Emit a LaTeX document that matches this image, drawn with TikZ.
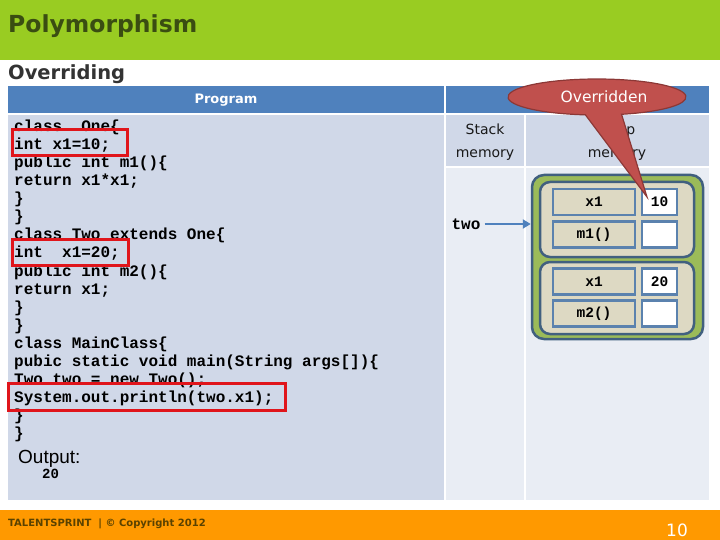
\documentclass[tikz,border=0pt]{standalone}
\usepackage{fontspec}
\setmainfont{DejaVu Sans}
\newfontfamily\codefont{Liberation Mono}
\newfontfamily\arialfont{Liberation Sans}
\usetikzlibrary{arrows.meta,calc}
\definecolor{hdrgreen}{HTML}{99CC22}
\definecolor{titlegreen}{HTML}{3A4D12}
\definecolor{tblue}{HTML}{4F81BD}
\definecolor{light1}{HTML}{D0D8E8}
\definecolor{light2}{HTML}{E9EDF4}
\definecolor{calred}{HTML}{C0504D}
\definecolor{calborder}{HTML}{8C3836}
\definecolor{heapgreen}{HTML}{9BBB59}
\definecolor{darkslate}{HTML}{41607F}
\definecolor{cellborder}{HTML}{5B82AE}
\definecolor{beige}{HTML}{DDD9C3}
\definecolor{hlred}{HTML}{E0151B}
\definecolor{footorange}{HTML}{FF9900}
\definecolor{foottext}{HTML}{5A4200}
\begin{document}
\begin{tikzpicture}[x=1pt,y=-1pt,
  every node/.style={inner sep=0pt},
  code/.style={anchor=base west, font=\codefont\bfseries\fontsize{16}{18}\selectfont},
  hl/.style={draw=hlred, line width=3pt},
  celltext/.style={font=\codefont\bfseries\fontsize{14.5}{16}\selectfont},
  namecell/.style={draw=cellborder, fill=beige, line width=2.5pt, minimum width=82pt, minimum height=26pt, celltext},
  valcell/.style={draw=cellborder, fill=white, line width=2.5pt, minimum width=35pt, minimum height=26pt, celltext},
  innerbox/.style={draw=darkslate, fill=beige, line width=2.5pt, rounded corners=10pt, minimum width=154pt},
  memlabel/.style={font=\fontsize{14}{16}\selectfont, text=black!90}
]
\useasboundingbox (0,0) rectangle (720,540);
\fill[white] (0,0) rectangle (720,540);
% header
\fill[hdrgreen] (0,0) rectangle (720,60);
\node[anchor=base west, font=\fontsize{23.5}{28}\selectfont\bfseries, text=titlegreen] (title) at (8,33) {Polymorphism};
\node[anchor=base west, font=\fontsize{19.5}{24}\selectfont\bfseries, text=black!80] (sub) at (8,80) {Overriding};
% table
\fill[tblue] (8,86) rectangle (709,114);
\fill[light1] (8,114) rectangle (445,500);
\fill[light1] (445,114) rectangle (709,167);
\fill[light2] (445,167) rectangle (709,500);
\draw[white, line width=1.5pt] (445,86) -- (445,500);
\draw[white, line width=1.5pt] (8,114) -- (709,114);
\draw[white, line width=1.5pt] (445,167) -- (709,167);
\draw[white, line width=1.5pt] (525,114) -- (525,500);
\node[font=\fontsize{13}{16}\selectfont\bfseries, text=white] (prog) at (226,100) {Program};
\node[memlabel, anchor=base] (stack1) at (485,135) {Stack};
\node[memlabel, anchor=base] (stack2) at (485,158) {memory};
\node[memlabel, anchor=base] (heap1) at (617,135) {Heap};
\node[memlabel, anchor=base] (heap2) at (617,158) {memory};
% code
\node[code] (c0) at (14,132) {class\ \ One\{};
\node[code] (c1) at (14,150) {int x1=10;};
\node[code] (c2) at (14,168) {public int m1()\{};
\node[code] (c3) at (14,186) {return x1*x1;};
\node[code] (c4) at (14,204) {\}};
\node[code] (c5) at (14,222) {\}};
\node[code] (c6) at (14,240) {class Two extends One\{};
\node[code] (c7) at (14,258) {int\ \ x1=20;};
\node[code] (c8) at (14,276) {public int m2()\{};
\node[code] (c9) at (14,294) {return x1;};
\node[code] (c10) at (14,312) {\}};
\node[code] (c11) at (14,330) {\}};
\node[code] (c12) at (14,348) {class MainClass\{};
\node[code] (c13) at (14,366) {pubic static void main(String args[])\{};
\node[code] (c14) at (14,384) {Two two = new Two();};
\node[code] (c15) at (14,402) {System.out.println(two.x1);};
\node[code] (c16) at (14,420) {\}};
\node[code] (c17) at (14,438) {\}};
\draw[hl] (12,130) rectangle (127,156);
\draw[hl] (12,239) rectangle (128,265);
\draw[hl] (8,383) rectangle (285,410);
\node[anchor=base west, font=\arialfont\fontsize{19}{22}\selectfont] (out) at (18,463) {Output:};
\node[anchor=base west, font=\codefont\bfseries\fontsize{14}{16}\selectfont] (outval) at (42,478) {20};
% heap object
\node[draw=darkslate, fill=heapgreen, line width=2.5pt, rounded corners=12pt, minimum width=171pt, minimum height=164pt] (obj) at (617.5,257) {};
\node[innerbox, minimum height=75pt] (in1) at (617,219.5) {};
\node[innerbox, minimum height=72pt] (in2) at (617,298) {};
\node[namecell] (n1) at (594,202) {x1};
\node[valcell] (v1) at (659.5,202) {10};
\node[namecell] (n2) at (594,234.5) {m1()};
\node[valcell] (v2) at (659.5,234.5) {};
\node[namecell] (n3) at (594,281.5) {x1};
\node[valcell] (v3) at (659.5,281.5) {20};
\node[namecell] (n4) at (594,313.5) {m2()};
\node[valcell] (v4) at (659.5,313.5) {};
% two reference
\node[font=\codefont\bfseries\fontsize{16}{18}\selectfont] (two) at (466,224) {two};
\draw[tblue, line width=2.5pt, -{Triangle[length=8pt,width=9pt]}] ([xshift=4pt]two.east) -- (two.east -| obj.west);
% callout
\coordinate (ctip) at (647,197);
\path[fill=calred, draw=calborder, line width=1.2pt] ($(597,97)+(97.5:89 and 18)$) arc[start angle=97.5, end angle=434, x radius=89, y radius=18] -- (ctip) -- cycle;
\node[font=\fontsize{15.5}{18}\selectfont, text=white] (callout) at (604,97) {Overridden};
% footer
\fill[footorange] (0,510) rectangle (720,540);
\node[anchor=west, font=\fontsize{10}{12}\selectfont\bfseries, text=foottext] (foot) at (8,524) {TALENTSPRINT \ | © Copyright 2012};
\node[font=\fontsize{17}{20}\selectfont, text=white] (pnum) at (677,530) {10};
\end{tikzpicture}
\end{document}
